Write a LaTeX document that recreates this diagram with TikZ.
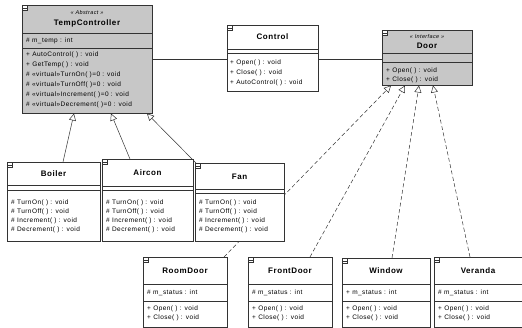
\documentclass[tikz,border=0pt]{standalone}
\usepackage{fontspec}
\setmainfont{Liberation Sans}[LetterSpace=7]
\usetikzlibrary{arrows.meta}
\pgfdeclarelayer{bg}
\pgfsetlayers{bg,main}
\begin{document}
\begin{tikzpicture}[x=1pt,y=-1pt,
  cls/.style={draw=black!80, line width=0.5pt, fill=white, inner sep=0pt, anchor=north west},
  shaded/.style={cls, fill=black!22},
  ttl/.style={font=\fontsize{8}{9}\selectfont\bfseries, inner sep=0pt},
  ster/.style={font=\fontsize{5.5}{6}\selectfont\itshape, inner sep=0pt},
  mt/.style={font=\fontsize{6.5}{7}\selectfont, anchor=west, inner sep=0pt},
  div/.style={draw=black!80, line width=0.5pt},
  assoc/.style={draw=black!80, line width=0.5pt},
  gen/.style={draw=black!80, line width=0.5pt, -{Triangle[open,length=7pt,width=7pt]}},
  real/.style={gen, dash pattern=on 4pt off 2.5pt},
  icon/.style={draw=black!80, line width=0.4pt, fill=white, minimum width=5pt, minimum height=5pt, inner sep=0pt, anchor=north west}
]
\useasboundingbox (0,0) rectangle (522,327);

% ---------- TempController ----------
\node[shaded, minimum width=130pt, minimum height=108pt] (tc) at (22,5) {};
\draw[div] (tc.west |- 0,33) -- (tc.east |- 0,33);
\draw[div] (tc.west |- 0,48) -- (tc.east |- 0,48);
\node[icon] (tci) at (tc.north west) {};
\draw[div, line width=0.4pt] (tci.west) -- (tci.east);
\node[ster] (tcs) at (87,13) {<< Abstract >>};
\node[ttl] (tct) at (87,23) {TempController};
\node[mt] (tca) at (26,41) {\# m\_temp : int};
\node[mt] (tcm1) at (26,55) {+ AutoControl( ) : void};
\node[mt] (tcm2) at (26,65) {+ GetTemp( ) : void};
\node[mt] (tcm3) at (26,75) {\# <<virtual>>TurnOn( )=0 : void};
\node[mt] (tcm4) at (26,85) {\# <<virtual>>TurnOff( )=0 : void};
\node[mt] (tcm5) at (26,95) {\# <<virtual>>Increment( )=0 : void};
\node[mt] (tcm6) at (26,105) {\# <<virtual>>Decrement( )=0 : void};

% ---------- Control ----------
\node[cls, minimum width=91pt, minimum height=66pt] (ctl) at (227,25) {};
\draw[div] (ctl.west |- 0,49) -- (ctl.east |- 0,49);
\draw[div] (ctl.west |- 0,53) -- (ctl.east |- 0,53);
\node[icon] (ctli) at (ctl.north west) {};
\draw[div, line width=0.4pt] (ctli.west) -- (ctli.east);
\node[ttl] (ctlt) at (272.5,37) {Control};
\node[mt] (ctlm1) at (230,63) {+ Open( ) : void};
\node[mt] (ctlm2) at (230,73) {+ Close( ) : void};
\node[mt] (ctlm3) at (230,83) {+ AutoControl( ) : void};

% ---------- Door ----------
\node[shaded, minimum width=90pt, minimum height=55pt] (door) at (382,30) {};
\draw[div] (door.west |- 0,53) -- (door.east |- 0,53);
\draw[div] (door.west |- 0,62) -- (door.east |- 0,62);
\node[icon] (doori) at (door.north west) {};
\draw[div, line width=0.4pt] (doori.west) -- (doori.east);
\node[ster] (doors) at (427,37) {<< Interface >>};
\node[ttl] (doort) at (427,46) {Door};
\node[mt] (doorm1) at (386,71) {+ Open( ) : void};
\node[mt] (doorm2) at (386,80) {+ Close( ) : void};

% ---------- connectors (behind boxes) ----------
\begin{pgfonlayer}{bg}
\draw[assoc] (tc.east |- 0,59) -- (ctl.west |- 0,59);
\draw[assoc] (ctl.east |- 0,59) -- (door.west |- 0,59);
\end{pgfonlayer}

% ---------- Boiler ----------
\node[cls, minimum width=93pt, minimum height=79pt] (boiler) at (7,162) {};
\draw[div] (boiler.west |- 0,185) -- (boiler.east |- 0,185);
\draw[div] (boiler.west |- 0,190) -- (boiler.east |- 0,190);
\node[icon] (boileri) at (boiler.north west) {};
\draw[div, line width=0.4pt] (boileri.west) -- (boileri.east);
\node[ttl] (boilert) at (53.5,174) {Boiler};
\node[mt] (boilerm1) at (11,203) {\# TurnOn( ) : void};
\node[mt] (boilerm2) at (11,212) {\# TurnOff( ) : void};
\node[mt] (boilerm3) at (11,221) {\# Increment( ) : void};
\node[mt] (boilerm4) at (11,230) {\# Decrement( ) : void};

% ---------- Aircon ----------
\node[cls, minimum width=91pt, minimum height=82pt] (aircon) at (102,159) {};
\draw[div] (aircon.west |- 0,186) -- (aircon.east |- 0,186);
\draw[div] (aircon.west |- 0,190) -- (aircon.east |- 0,190);
\node[icon] (airconi) at (aircon.north west) {};
\draw[div, line width=0.4pt] (airconi.west) -- (airconi.east);
\node[ttl] (aircont) at (147.5,173) {Aircon};
\node[mt] (airconm1) at (106,203) {\# TurnOn( ) : void};
\node[mt] (airconm2) at (106,212) {\# TurnOff( ) : void};
\node[mt] (airconm3) at (106,221) {\# Increment( ) : void};
\node[mt] (airconm4) at (106,230) {\# Decrement( ) : void};

% ---------- bottom row ----------
\node[cls, minimum width=84pt, minimum height=70pt] (room) at (143,257) {};
\draw[div] (room.west |- 0,284) -- (room.east |- 0,284);
\draw[div] (room.west |- 0,301) -- (room.east |- 0,301);
\node[icon] (roomi) at (room.north west) {};
\draw[div, line width=0.4pt] (roomi.west) -- (roomi.east);
\node[ttl] (roomt) at (185,271) {RoomDoor};
\node[mt] (rooma) at (147,293) {\# m\_status : int};
\node[mt] (roomm1) at (147,309) {+ Open( ) : void};
\node[mt] (roomm2) at (147,318) {+ Close( ) : void};

\node[cls, minimum width=84pt, minimum height=70pt] (front) at (248,257) {};
\draw[div] (front.west |- 0,284) -- (front.east |- 0,284);
\draw[div] (front.west |- 0,301) -- (front.east |- 0,301);
\node[icon] (fronti) at (front.north west) {};
\draw[div, line width=0.4pt] (fronti.west) -- (fronti.east);
\node[ttl] (frontt) at (290,271) {FrontDoor};
\node[mt] (fronta) at (252,293) {\# m\_status : int};
\node[mt] (frontm1) at (252,309) {+ Open( ) : void};
\node[mt] (frontm2) at (252,318) {+ Close( ) : void};

\node[cls, minimum width=88pt, minimum height=69pt] (window) at (342,258) {};
\draw[div] (window.west |- 0,284) -- (window.east |- 0,284);
\draw[div] (window.west |- 0,301) -- (window.east |- 0,301);
\node[icon] (windowi) at (window.north west) {};
\draw[div, line width=0.4pt] (windowi.west) -- (windowi.east);
\node[ttl] (windowt) at (386,271) {Window};
\node[mt] (windowa) at (346,293) {+ m\_status : int};
\node[mt] (windowm1) at (346,309) {+ Open( ) : void};
\node[mt] (windowm2) at (346,318) {+ Close( ) : void};

\node[cls, minimum width=87.5pt, minimum height=70pt] (veranda) at (434,257) {};
\draw[div] (veranda.west |- 0,284) -- (veranda.east |- 0,284);
\draw[div] (veranda.west |- 0,301) -- (veranda.east |- 0,301);
\node[icon] (verandai) at (veranda.north west) {};
\draw[div, line width=0.4pt] (verandai.west) -- (verandai.east);
\node[ttl] (verandat) at (478,271) {Veranda};
\node[mt] (verandaa) at (438,293) {\# m\_status : int};
\node[mt] (verandam1) at (438,309) {+ Open( ) : void};
\node[mt] (verandam2) at (438,318) {+ Close( ) : void};

% ---------- inheritance / realization (behind boxes) ----------
\begin{pgfonlayer}{bg}
\draw[gen] (boiler.north -| 63,0) -- (tc.south -| 74,0);
\draw[gen] (aircon.north -| 130,0) -- (tc.south -| 111,0);
\draw[gen] ([xshift=1pt]195,163) -- (tc.south -| 147,0);
\draw[real] (room.north -| 224,0) -- (door.south -| 391,0);
\draw[real] (front.north -| 310,0) -- (door.south -| 405,0);
\draw[real] (window.north -| 392,0) -- (door.south -| 419,0);
\draw[real] (veranda.north -| 470,0) -- (door.south -| 433,0);
\end{pgfonlayer}

% ---------- Fan (drawn last, covers the RoomDoor line) ----------
\node[cls, minimum width=89pt, minimum height=78pt] (fan) at (195,163) {};
\draw[div] (fan.west |- 0,189) -- (fan.east |- 0,189);
\draw[div] (fan.west |- 0,193) -- (fan.east |- 0,193);
\node[icon] (fani) at (fan.north west) {};
\draw[div, line width=0.4pt] (fani.west) -- (fani.east);
\node[ttl] (fant) at (239.5,177) {Fan};
\node[mt] (fanm1) at (199,203) {\# TurnOn( ) : void};
\node[mt] (fanm2) at (199,212) {\# TurnOff( ) : void};
\node[mt] (fanm3) at (199,221) {\# Increment( ) : void};
\node[mt] (fanm4) at (199,230) {\# Decrement( ) : void};
\end{tikzpicture}
\end{document}
